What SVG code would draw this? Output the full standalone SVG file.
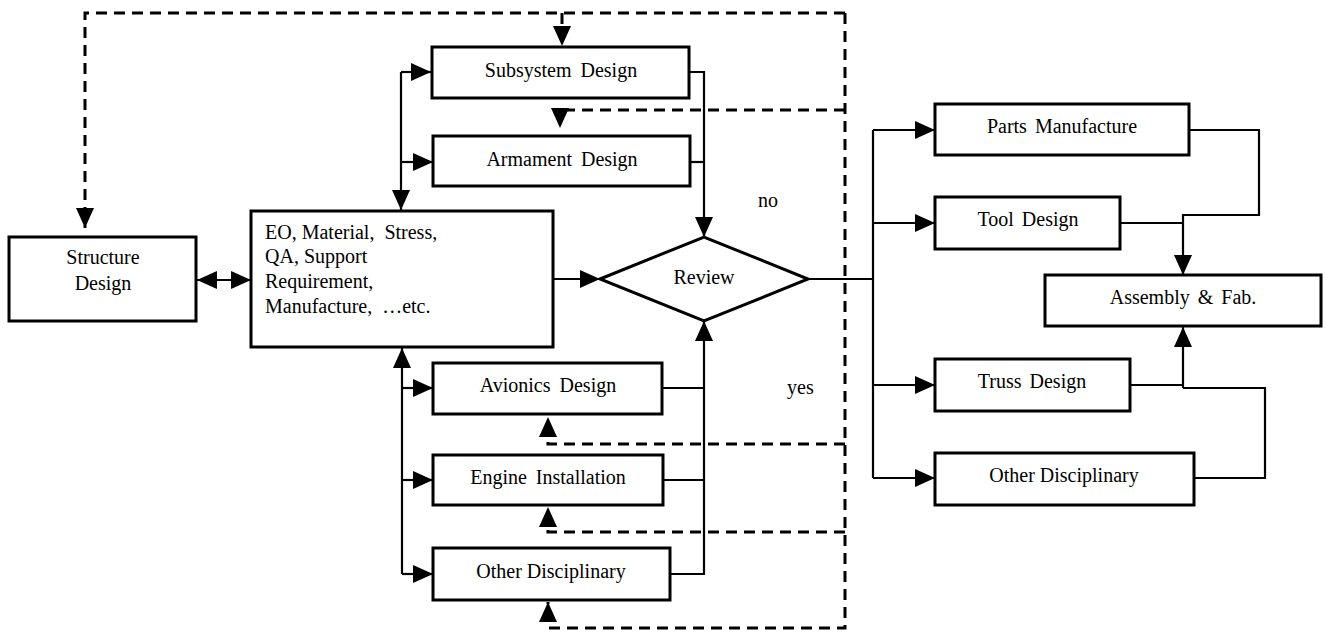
<svg xmlns="http://www.w3.org/2000/svg" width="1326" height="632" viewBox="0 0 1326 632">
<style>
.box{fill:#fff;stroke:#000;stroke-width:3}
.ln{fill:none;stroke:#000;stroke-width:2.2}
.dl{fill:none;stroke:#000;stroke-width:3;stroke-dasharray:11,7}
.t{font-family:"Liberation Serif","Times New Roman",serif;font-size:20px;fill:#000;white-space:pre}
.c{text-anchor:middle}
</style>
<defs>
<marker id="ah" markerUnits="userSpaceOnUse" markerWidth="21" markerHeight="18" refX="20" refY="9" orient="auto-start-reverse">
<path d="M0,0 L20,9 L0,18 z" fill="#000"/>
</marker>
</defs>
<rect width="1326" height="632" fill="#fff"/>
<g id="connectors">
<path class="dl" d="M845,13 H85 V228" marker-end="url(#ah)"/>
<path class="dl" d="M562,13 V46" marker-end="url(#ah)"/>
<path class="dl" d="M845,13 V628 H548 V602" marker-end="url(#ah)"/>
<path class="dl" d="M845,110 H560 V128" marker-end="url(#ah)"/>
<path class="dl" d="M845,444 H548 V417" marker-end="url(#ah)"/>
<path class="dl" d="M845,532 H548 V507" marker-end="url(#ah)"/>
<path class="ln" d="M197,280 H251" marker-start="url(#ah)" marker-end="url(#ah)"/>
<path class="ln" d="M401,72 V210" marker-end="url(#ah)"/>
<path class="ln" d="M401,72 H431" marker-end="url(#ah)"/>
<path class="ln" d="M401,162 H433" marker-end="url(#ah)"/>
<path class="ln" d="M402,574 V348" marker-end="url(#ah)"/>
<path class="ln" d="M402,388 H433" marker-end="url(#ah)"/>
<path class="ln" d="M402,480 H433" marker-end="url(#ah)"/>
<path class="ln" d="M402,574 H433" marker-end="url(#ah)"/>
<path class="ln" d="M553,279 H600" marker-end="url(#ah)"/>
<path class="ln" d="M689,72 H704 V237" marker-end="url(#ah)"/>
<path class="ln" d="M690,162 H704"/>
<path class="ln" d="M662,388 H704"/>
<path class="ln" d="M663,480 H704"/>
<path class="ln" d="M670,574 H704 V321" marker-end="url(#ah)"/>
<path class="ln" d="M808,279 H873"/>
<path class="ln" d="M873,130 V478"/>
<path class="ln" d="M873,130 H935" marker-end="url(#ah)"/>
<path class="ln" d="M873,223 H935" marker-end="url(#ah)"/>
<path class="ln" d="M873,385 H935" marker-end="url(#ah)"/>
<path class="ln" d="M873,478 H935" marker-end="url(#ah)"/>
<path class="ln" d="M1189,130 H1259 V215 H1183 V275" marker-end="url(#ah)"/>
<path class="ln" d="M1120,223 H1183"/>
<path class="ln" d="M1195,478 H1265 V388 H1183"/>
<path class="ln" d="M1130,385 H1183"/>
<path class="ln" d="M1183,388 V327" marker-end="url(#ah)"/>
</g>
<g id="structure">
<rect class="box" x="9" y="237" width="187" height="84"/>
<text class="t c" x="103" y="264">Structure</text>
<text class="t c" x="103" y="290">Design</text>
</g>
<g id="eo">
<rect class="box" x="251" y="211" width="302" height="136"/>
<text class="t" x="265" y="239" xml:space="preserve">EO, Material,  Stress,</text>
<text class="t" x="265" y="263">QA, Support</text>
<text class="t" x="265" y="288">Requirement,</text>
<text class="t" x="265" y="313" xml:space="preserve">Manufacture,  …etc.</text>
</g>
<g id="subsystem">
<rect class="box" x="432" y="47" width="257" height="51"/>
<text class="t c" x="561" y="77" word-spacing="4">Subsystem Design</text>
</g>
<g id="armament">
<rect class="box" x="433" y="136" width="257" height="50"/>
<text class="t c" x="562" y="166" word-spacing="4">Armament Design</text>
</g>
<g id="review">
<polygon points="600,279 704,237 808,279 704,321" fill="#fff" stroke="#000" stroke-width="3"/>
<text class="t c" x="704" y="284">Review</text>
</g>
<g id="avionics">
<rect class="box" x="433" y="363" width="229" height="51"/>
<text class="t c" x="548" y="392" word-spacing="4">Avionics Design</text>
</g>
<g id="engine">
<rect class="box" x="433" y="455" width="230" height="50"/>
<text class="t c" x="548" y="484" word-spacing="4">Engine Installation</text>
</g>
<g id="other-left">
<rect class="box" x="433" y="548" width="237" height="52"/>
<text class="t c" x="551" y="578">Other Disciplinary</text>
</g>
<g id="labels">
<text class="t" x="758" y="207">no</text>
<text class="t" x="787" y="394">yes</text>
</g>
<g id="parts">
<rect class="box" x="935" y="104" width="254" height="51"/>
<text class="t c" x="1062" y="133" word-spacing="3">Parts Manufacture</text>
</g>
<g id="tool">
<rect class="box" x="935" y="197" width="185" height="52"/>
<text class="t c" x="1028" y="226" word-spacing="3">Tool Design</text>
</g>
<g id="assembly">
<rect class="box" x="1045" y="275" width="276" height="51"/>
<text class="t c" x="1183" y="304" word-spacing="3">Assembly &amp; Fab.</text>
</g>
<g id="truss">
<rect class="box" x="935" y="359" width="195" height="52"/>
<text class="t c" x="1032" y="388" word-spacing="3">Truss Design</text>
</g>
<g id="other-right">
<rect class="box" x="935" y="453" width="259" height="52"/>
<text class="t c" x="1064" y="482">Other Disciplinary</text>
</g>
</svg>
